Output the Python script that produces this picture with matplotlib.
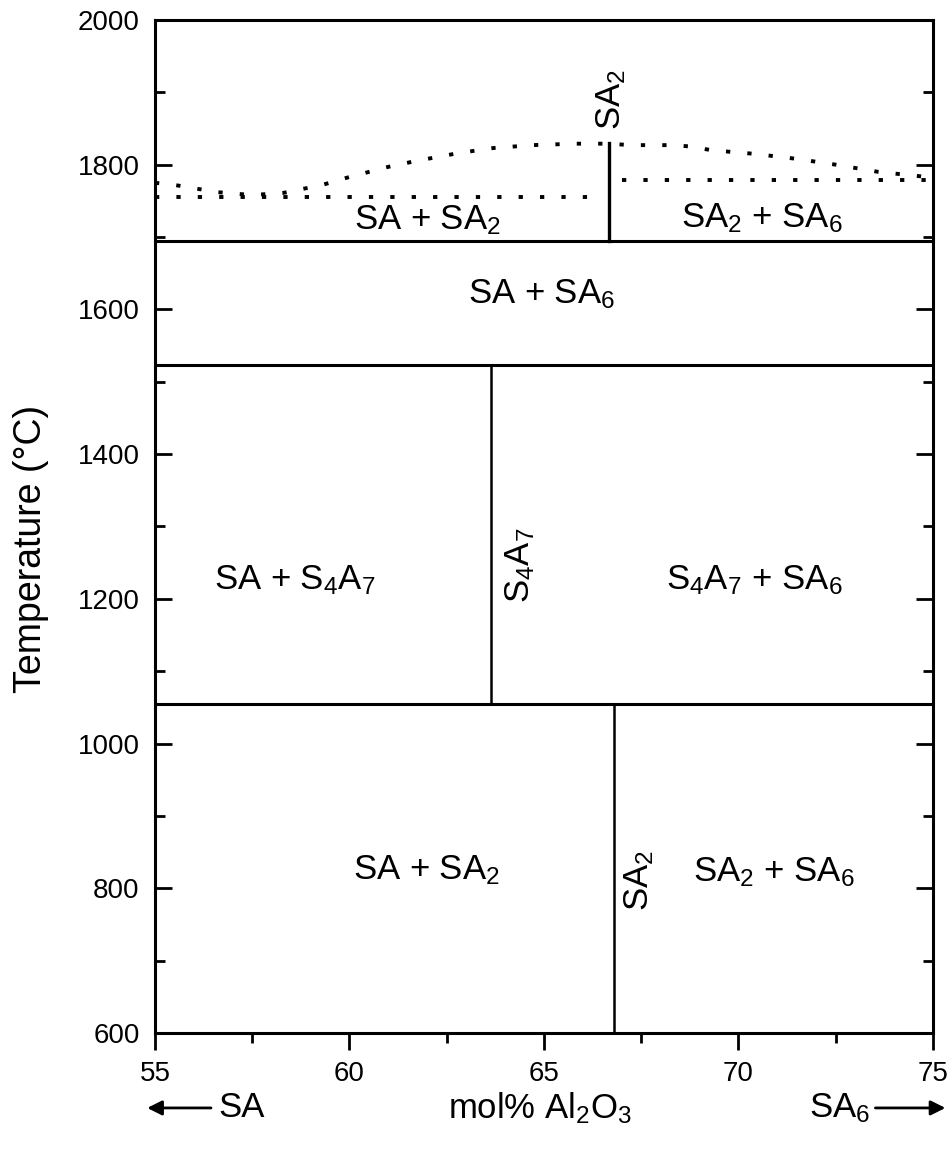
import matplotlib
matplotlib.use('Agg')
import matplotlib.pyplot as plt
from matplotlib.ticker import MultipleLocator

plt.rcParams['font.family'] = ['Liberation Sans', 'DejaVu Sans']
plt.rcParams['mathtext.default'] = 'regular'

# Isotherms (degC), each spanning the full composition range
ISOTHERMS = [1695, 1523, 1055]

# Vertical compound lines: (mol% Al2O3, T low, T high, linewidth)
COMPOUND_LINES = [
    (66.67, 1695, 1830, 2.4),   # SA2 above the SA + SA6 field
    (63.64, 1055, 1523, 1.8),   # S4A7
    (66.80, 600, 1055, 1.8),    # SA2 at low temperature
]

# Dotted (uncertain) boundaries
DOT_LOW_LEFT_X = [55.0, 66.4]
DOT_LOW_LEFT_T = [1755, 1755]
DOT_LOW_RIGHT_X = [67.0, 75.0]
DOT_LOW_RIGHT_T = [1779, 1779]
DOT_CURVE_X = [55.0, 55.5, 56.6, 57.5, 58.3, 59.3, 60.0, 61.0, 61.7, 62.8, 63.7,
               64.7, 65.8, 66.7, 67.2, 68.3, 68.8, 69.3, 70.4, 71.5, 72.5, 73.6,
               74.5, 75.0]
DOT_CURVE_T = [1775, 1772, 1762, 1758, 1761, 1772, 1783, 1797, 1805, 1816, 1823,
               1827, 1829, 1829, 1827, 1827, 1825, 1820, 1815, 1808, 1800, 1790,
               1785, 1782]

# Phase-field labels: (text, x, T)
FIELD_LABELS = [
    (r'SA + SA$_2$', 62.0, 1710),
    (r'SA$_2$ + SA$_6$', 70.6, 1714),
    (r'SA + SA$_6$', 64.95, 1609),
    (r'SA + S$_4$A$_7$', 58.6, 1213),
    (r'S$_4$A$_7$ + SA$_6$', 70.4, 1213),
    (r'SA + SA$_2$', 61.97, 812),
    (r'SA$_2$ + SA$_6$', 70.9, 809),
]
ROTATED_LABELS = [
    (r'SA$_2$', 66.72, 1890),
    (r'S$_4$A$_7$', 64.38, 1247),
    (r'SA$_2$', 67.45, 811),
]

fig = plt.figure(figsize=(9.52, 11.6), dpi=100)
ax = fig.add_axes([0.1628, 0.1095, 0.8172, 0.8733])

for t in ISOTHERMS:
    ax.plot([55, 75], [t, t], color='black', lw=2.2)
for x, t0, t1, lw in COMPOUND_LINES:
    ax.plot([x, x], [t0, t1], color='black', lw=lw)

dot = dict(color='black', lw=2.8, linestyle=(0, (1.1, 4.4)))
ax.plot(DOT_LOW_LEFT_X, DOT_LOW_LEFT_T, **dot)
ax.plot(DOT_LOW_RIGHT_X, DOT_LOW_RIGHT_T, **dot)
ax.plot(DOT_CURVE_X, DOT_CURVE_T, **dot)

for text, x, t in FIELD_LABELS:
    ax.text(x, t, text, ha='center', va='baseline', fontsize=25)
for text, x, t in ROTATED_LABELS:
    ax.text(x, t, text, ha='center', va='center', rotation=90, fontsize=25)

ax.set_xlim(55, 75)
ax.set_ylim(600, 2000)
ax.xaxis.set_major_locator(MultipleLocator(5))
ax.xaxis.set_minor_locator(MultipleLocator(2.5))
ax.yaxis.set_major_locator(MultipleLocator(200))
ax.yaxis.set_minor_locator(MultipleLocator(100))
ax.tick_params(axis='x', which='both', direction='out', labelsize=20,
               width=2, pad=8, top=False)
ax.tick_params(axis='x', which='major', length=12)
ax.tick_params(axis='x', which='minor', length=7)
ax.tick_params(axis='y', which='both', direction='in', labelsize=20,
               width=2, pad=11, left=True, right=True)
ax.tick_params(axis='y', which='major', length=12)
ax.tick_params(axis='y', which='minor', length=7)
for sp in ax.spines.values():
    sp.set_linewidth(2.2)

ax.set_ylabel('Temperature (°C)', fontsize=27)
ax.yaxis.set_label_coords(-0.136, 0.478)

# Composition axis caption with end-member arrows
ax.text(0.495, -0.074, r'mol% Al$_2$O$_3$', transform=ax.transAxes,
        ha='center', va='center', fontsize=25)
ax.annotate('', xy=(-0.01, -0.074), xytext=(0.072, -0.074),
            xycoords='axes fraction', textcoords='axes fraction',
            arrowprops=dict(arrowstyle='-|>', lw=2, color='black',
                            mutation_scale=22, shrinkA=0, shrinkB=0),
            annotation_clip=False)
ax.text(0.081, -0.074, 'SA', transform=ax.transAxes, ha='left',
        va='center', fontsize=25)
ax.text(0.919, -0.074, r'SA$_6$', transform=ax.transAxes, ha='right',
        va='center', fontsize=25)
ax.annotate('', xy=(1.016, -0.074), xytext=(0.926, -0.074),
            xycoords='axes fraction', textcoords='axes fraction',
            arrowprops=dict(arrowstyle='-|>', lw=2, color='black',
                            mutation_scale=22, shrinkA=0, shrinkB=0),
            annotation_clip=False)

fig.savefig('out.png', dpi=100)
